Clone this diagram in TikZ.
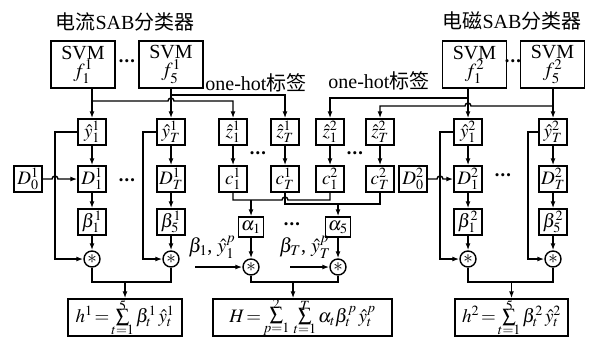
\documentclass[tikz,border=0pt]{standalone}
\usepackage{mathptmx}
\usepackage[no-math]{fontspec}
\setmainfont{Liberation Serif}
\newfontfamily\cjk{Noto Sans CJK SC}
\usetikzlibrary{arrows.meta}
\newcommand{\csum}[2]{\mathop{\vcenter{\offinterlineskip\halign{\hfil##\hfil\cr$\scriptstyle#2$\cr\noalign{\kern-1.5pt}$\textstyle\sum$\cr\noalign{\kern-0.5pt}$\scriptstyle#1$\cr}}}}
\newcommand{\tdots}{\textbullet\hspace{1.2pt}\textbullet\hspace{1.2pt}\textbullet}
\tikzset{
  sbox/.style={draw, minimum width=28pt, minimum height=26pt, inner sep=0pt, font=\fontsize{19}{19}\selectfont},
  abox/.style={draw, minimum width=25pt, minimum height=20pt, inner sep=0pt, font=\fontsize{19}{19}\selectfont},
  svmbox/.style={draw, minimum width=64pt, minimum height=47pt, inner sep=1pt, align=center, font=\fontsize{20}{18}\selectfont},
  starnode/.style={draw, circle, minimum size=16pt, inner sep=0pt, font=\fontsize{19}{19}\selectfont},
  sumbox/.style={draw, minimum height=37pt, inner sep=0pt, font=\fontsize{19}{19}\selectfont},
  lbl/.style={inner sep=0pt, font=\fontsize{20}{20}\selectfont},
  dotsnode/.style={inner sep=0pt, font=\fontsize{13}{13}\selectfont}
}
\newcommand{\hopr}{arc[start angle=180,end angle=0,radius=3pt]}
\newcommand{\hopl}{arc[start angle=0,end angle=180,radius=3pt]}
\begin{document}
\begin{tikzpicture}[x=1pt,y=-1pt,line width=1.4pt,>={Latex[length=7pt,width=5pt]}]
\useasboundingbox (0,0) rectangle (595,338);
% titles
\node[lbl] (t1) at (125,22) {{\cjk 电流}SAB{\cjk 分类器}};
\node[lbl] (t2) at (512,21) {{\cjk 电磁}SAB{\cjk 分类器}};
% SVM boxes
\node[svmbox] (svm11) at (83,64.5) {SVM\\$f_1^1$};
\node[svmbox] (svm15) at (171,64.5) {SVM\\$f_5^1$};
\node[svmbox] (svm21) at (474.5,64.5) {SVM\\$f_1^2$};
\node[svmbox] (svm25) at (552.5,64.5) {SVM\\$f_5^2$};
\node[dotsnode] (dt1) at (127,63) {\tdots};
\node[dotsnode] (dt2) at (513,63) {\tdots};
% one-hot labels
\node[lbl] (oh1) at (256,83) {one-hot{\cjk 标签}};
\node[lbl] (oh2) at (379,81) {one-hot{\cjk 标签}};
% row A
\node[sbox] (y11) at (92,132) {$\hat{y}_1^1$};
\node[sbox] (yT1) at (171,132) {$\hat{y}_T^1$};
\node[sbox] (z11) at (233,132) {$\hat{z}_1^1$};
\node[sbox] (zT1) at (285,132) {$\hat{z}_T^1$};
\node[sbox] (z12) at (330,132) {$\hat{z}_1^2$};
\node[sbox] (zT2) at (380,132) {$\hat{z}_T^2$};
\node[sbox] (y12) at (468,132) {$\hat{y}_1^2$};
\node[sbox] (yT2) at (553,132) {$\hat{y}_T^2$};
\node[dotsnode] (dz1) at (258,155) {\tdots};
\node[dotsnode] (dz2) at (355,155) {\tdots};
% row B
\node[sbox] (D01) at (28,179) {$D_0^1$};
\node[sbox] (D11) at (92,179) {$D_1^1$};
\node[sbox] (DT1) at (171,179) {$D_T^1$};
\node[sbox] (c11) at (233,179) {$c_1^1$};
\node[sbox] (cT1) at (285,179) {$c_T^1$};
\node[sbox] (c12) at (330,179) {$c_1^2$};
\node[sbox] (cT2) at (380,179) {$c_T^2$};
\node[sbox] (D02) at (413,179) {$D_0^2$};
\node[sbox] (D12) at (468,179) {$D_1^2$};
\node[sbox] (DT2) at (553,179) {$D_T^2$};
\node[dotsnode] (dd1) at (127,182) {\tdots};
\node[dotsnode] (dd2) at (503,177) {\tdots};
% row C
\node[sbox] (b11) at (92,222) {$\beta_1^1$};
\node[sbox] (b51) at (171,222) {$\beta_5^1$};
\node[sbox] (b12) at (468,222) {$\beta_1^2$};
\node[sbox] (b52) at (553,222) {$\beta_5^2$};
\node[abox] (a1) at (251,227) {$\alpha_1$};
\node[abox] (a5) at (338,227) {$\alpha_5$};
\node[dotsnode] (da) at (292,226) {\tdots};
% stars
\node[starnode] (s11) at (92,259) {$\ast$};
\node[starnode] (s51) at (171,259) {$\ast$};
\node[starnode] (s12) at (468,259) {$\ast$};
\node[starnode] (s52) at (553,259) {$\ast$};
\node[starnode] (sa1) at (251,267) {$\ast$};
\node[starnode] (sa5) at (338,267) {$\ast$};
% input labels
\node[lbl] (in1l) at (212,247) {$\beta_1$, $\hat{y}_1^p$};
\node[lbl] (in5l) at (305,247) {$\beta_T$, $\hat{y}_T^p$};
\coordinate (in1) at (195,267);
\coordinate (in5) at (290,267);
% bottom boxes
\node[sumbox,minimum width=114pt] (h1) at (125,317.5) {$h^1\!=\!\csum{t=1}{5}\beta_t^1\,\hat{y}_t^1$};
\node[sumbox,minimum width=179pt] (H) at (302.5,317.5) {$H\!=\!\csum{p=1}{2}\,\csum{t=1}{T}\alpha_t\beta_t^p\,\hat{y}_t^p$};
\node[sumbox,minimum width=113pt] (h2) at (511.5,317.5) {$h^2\!=\!\csum{t=1}{5}\beta_t^2\,\hat{y}_t^2$};
% SVM -> row A
\draw[->] (svm11.south -| y11.north) -- (y11.north);
\draw[->] (svm15.south) -- (yT1.north);
\draw[->] (svm21.south -| y12.north) -- (y12.north);
\draw[->] (svm25.south -| yT2.north) -- (yT2.north);
\draw[->] (y11.north |- 0,101) -- (168,101) \hopr -- (z11.north |- 0,101) -- (z11.north);
\draw[->] (yT1.north |- 0,95) -- (zT1.north |- 0,95) -- (zT1.north);
\draw[->] (y12.north |- 0,98) -- (z12.north |- 0,98) -- (z12.north);
\draw[->] (yT2.north |- 0,106) -- (471,106) \hopl -- (zT2.north |- 0,106) -- (zT2.north);
% row A -> row B
\foreach \a/\b in {y11/D11,yT1/DT1,z11/c11,zT1/cT1,z12/c12,zT2/cT2,y12/D12,yT2/DT2}
  \draw[->] (\a.south) -- (\b.north);
% D0 -> D1
\draw[->] (D01.east) -- (52,179) \hopr -- (D11.west);
\draw[->] (D02.east) -- (437,179) \hopr -- (D12.west);
% side lines
\draw[->] (y11.west) -- (55,132) -- (55,259) -- (s11.west);
\draw[->] (yT1.west) -- (143,132) -- (143,259) -- (s51.west);
\draw[->] (y12.west) -- (440,132) -- (440,259) -- (s12.west);
\draw[->] (yT2.west) -- (528,132) -- (528,259) -- (s52.west);
% D -> beta -> star
\foreach \a/\b/\c in {D11/b11/s11,DT1/b51/s51,D12/b12/s12,DT2/b52/s52}{
  \draw[->] (\a.south) -- (\b.north);
  \draw[->] (\b.south) -- (\c.north);
}
% c -> alpha
\draw (c11.south) -- (c11.south |- 0,200) -- (282,200) \hopr -- (c12.south |- 0,200) -- (c12.south);
\draw[->] (a1.north |- 0,200) -- (a1.north);
\draw (cT1.south) -- (cT1.south |- 0,204) -- (cT2.south |- 0,204) -- (cT2.south);
\draw[->] (a5.north |- 0,204) -- (a5.north);
\draw[->] (a1.south) -- (sa1.north);
\draw[->] (a5.south) -- (sa5.north);
\draw[->] (in1) -- (sa1.west);
\draw[->] (in5) -- (sa5.west);
% stars -> sums
\draw (s11.south) -- (s11.south |- 0,282) -- (s51.south |- 0,282) -- (s51.south);
\draw[->] (h1.north |- 0,282) -- (h1.north);
\draw (sa1.south) -- (sa1.south |- 0,282) -- (sa5.south |- 0,282) -- (sa5.south);
\draw[->] (293,282) -- (H.north -| 293,0);
\draw (s12.south) -- (s12.south |- 0,282) -- (s52.south |- 0,282) -- (s52.south);
\draw[->] (h2.north |- 0,282) -- (h2.north);
\end{tikzpicture}
\end{document}
